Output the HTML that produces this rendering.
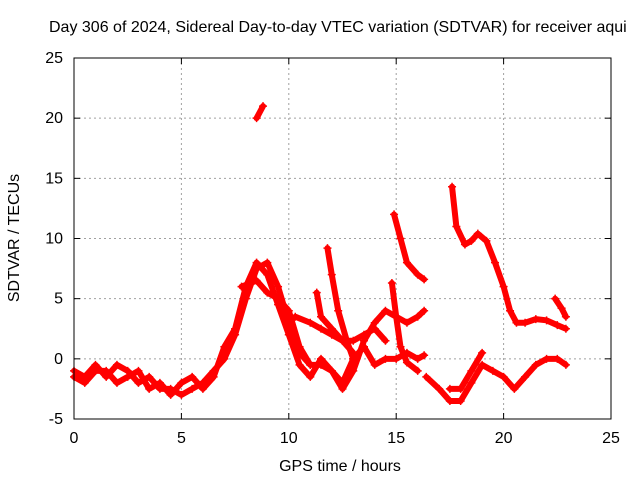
<!DOCTYPE html>
<html><head><meta charset="utf-8"><style>body{margin:0;background:#fff}svg{display:block;font-family:"Liberation Sans",sans-serif}</style></head>
<body>
<svg id="chart" width="640" height="480" viewBox="0 0 640 480">
<text x="49" y="32" font-size="16">Day 306 of 2024, Sidereal Day-to-day VTEC variation (SDTVAR) for receiver aqui</text>
<g id="grid"></g>
<g id="series"></g>
<rect x="74" y="58" width="537" height="361" fill="none" stroke="#000" stroke-width="1"/>
<g id="ticks"></g>
<text x="340" y="471" font-size="16" text-anchor="middle">GPS time / hours</text>
<text transform="translate(19,238) rotate(-90)" font-size="16" text-anchor="middle">SDTVAR / TECUs</text>
</svg>
<script>
const xTicks=[0,5,10,15,20,25];
const yTicks=[-5,0,5,10,15,20,25];
const trackA_h=[0,0.5,1,1.5,2,2.5,3,3.5,4,4.5,5,5.5,6,6.5,7,7.5,8,8.5,9,9.5,10,10.5,11,11.5,12,12.5,13,13.5,14,14.5,15,15.5,16,16.3];
const trackA_v=[-1,-1.5,-0.5,-1.5,-0.5,-1,-2,-1.5,-2.5,-2.5,-3,-2.5,-2,-1,0,2,5,7.5,8,6,3,0.5,-0.5,-0.5,-1,-2.5,-1,1.5,3,4,3.5,3,3.5,4];
const trackB_h=[0,0.5,1,1.5,2,2.5,3,3.5,4,4.5,5,5.5,6,6.5,7,7.5,8,8.5,9,9.5,10,10.5,11,11.5,12,12.5,13,13.5,14,14.5,15,15.5,16,16.3];
const trackB_v=[-1.5,-2,-1,-1,-2,-1.5,-1,-2.5,-2,-3,-2,-1.5,-2.5,-1.5,1,2.5,6,8,7,4.5,2,-0.5,-1.5,0,-1,-2,0,1,-0.5,0,0,0.5,0,0.3];
const trackC_h=[7.8,8.5,9,9.5,10,10.5,11];
const trackC_v=[6,6.5,5.5,5,4,1,-0.5];
const trackD_h=[10.3,11,11.5,12,12.5,13,13.5,14,14.5];
const trackD_v=[3.5,3,2.5,2,1.5,1.5,2,2.5,1.5];
const trackE_h=[11.3,11.5,12,12.5,13];
const trackE_v=[5.5,3.5,2.5,1.5,0.5];
const trackF_h=[11.8,12,12.3,12.7,13];
const trackF_v=[9.2,7,4,1.5,0];
const trackG_h=[14.8,15,15.2,15.5,16];
const trackG_v=[6.3,3.5,1,-0.3,-1];
const trackH_h=[16.4,17,17.5,18,18.5,19,19.5,20,20.5,21,21.5,22,22.5,22.9];
const trackH_v=[-1.5,-2.5,-3.5,-3.5,-2,-0.5,-1,-1.5,-2.5,-1.5,-0.5,0,0,-0.5];
const trackI_h=[17.5,18,18.5,19];
const trackI_v=[-2.5,-2.5,-1,0.5];
const trackJ_h=[8.5,8.8];
const trackJ_v=[20,21];
const trackK_h=[14.9,15.2,15.5,16,16.3];
const trackK_v=[12,10,8,7,6.6];
const trackL_h=[17.6,17.8,18.2,18.5,18.8,19.2,19.6,20,20.3,20.6,21,21.5,22,22.5,22.9];
const trackL_v=[14.3,11,9.5,9.8,10.4,9.8,8,6,4,3,3,3.3,3.2,2.8,2.5];
const trackM_h=[22.4,22.7,22.9];
const trackM_v=[5,4.2,3.5];
const tracks=[[trackA_h,trackA_v],[trackB_h,trackB_v],[trackC_h,trackC_v],[trackD_h,trackD_v],[trackE_h,trackE_v],[trackF_h,trackF_v],[trackG_h,trackG_v],[trackH_h,trackH_v],[trackI_h,trackI_v],[trackJ_h,trackJ_v],[trackK_h,trackK_v],[trackL_h,trackL_v],[trackM_h,trackM_v]];
const X0=74,X1=611,Y0=419,Y1=58;
const sx=h=>X0+(h-0)/(25-0)*(X1-X0);
const sy=v=>Y0-(v+5)/(30)*(Y0-Y1);
const NS='http://www.w3.org/2000/svg';
const grid=document.getElementById('grid'),ticks=document.getElementById('ticks'),ser=document.getElementById('series');
function mk(t,a,p){const e=document.createElementNS(NS,t);for(const k in a)e.setAttribute(k,a[k]);p.appendChild(e);return e;}
xTicks.forEach(t=>{const x=sx(t);
 if(t>0&&t<25){const g=mk('line',{x1:x,x2:x,y1:Y1,y2:Y0,stroke:'#a0a0a0','stroke-dasharray':'2,3'},grid);
 
 }
 const l=mk('line',{x1:x,x2:x,y1:Y0,y2:Y0-6,stroke:'#000'},ticks);
 
 
 const l2=mk('line',{x1:x,x2:x,y1:Y1,y2:Y1+6,stroke:'#000'},ticks);
 
 
 const tx=mk('text',{x:x,y:443,'font-size':'16','text-anchor':'middle'},ticks);tx.textContent=t;
 
 });
yTicks.forEach(t=>{const y=sy(t);
 if(t>-5&&t<25){const g=mk('line',{x1:X0,x2:X1,y1:y,y2:y,stroke:'#a0a0a0','stroke-dasharray':'2,3'},grid);
 
 }
 const l=mk('line',{x1:X0,x2:X0+6,y1:y,y2:y,stroke:'#000'},ticks);
 
 
 const l2=mk('line',{x1:X1,x2:X1-6,y1:y,y2:y,stroke:'#000'},ticks);
 
 
 const tx=mk('text',{x:63,y:y+5,'font-size':'16','text-anchor':'end'},ticks);tx.textContent=t;
 
 });
tracks.forEach(([hs,vs])=>{
 const pts=hs.map((h,i)=>sx(h)+','+sy(vs[i])).join(' ');
 const pl=mk('polyline',{points:pts,fill:'none',stroke:'#ff0000','stroke-width':6,'stroke-linejoin':'round','stroke-linecap':'round'},ser);
 
 
 hs.forEach((h,i)=>{const x=sx(h),y=sy(vs[i]);
  const m=mk('path',{d:`M${x-4},${y}H${x+4}M${x},${y-4}V${y+4}`,stroke:'#ff0000','stroke-width':1.5},ser);
  
  });
});
</script>
</body></html>
